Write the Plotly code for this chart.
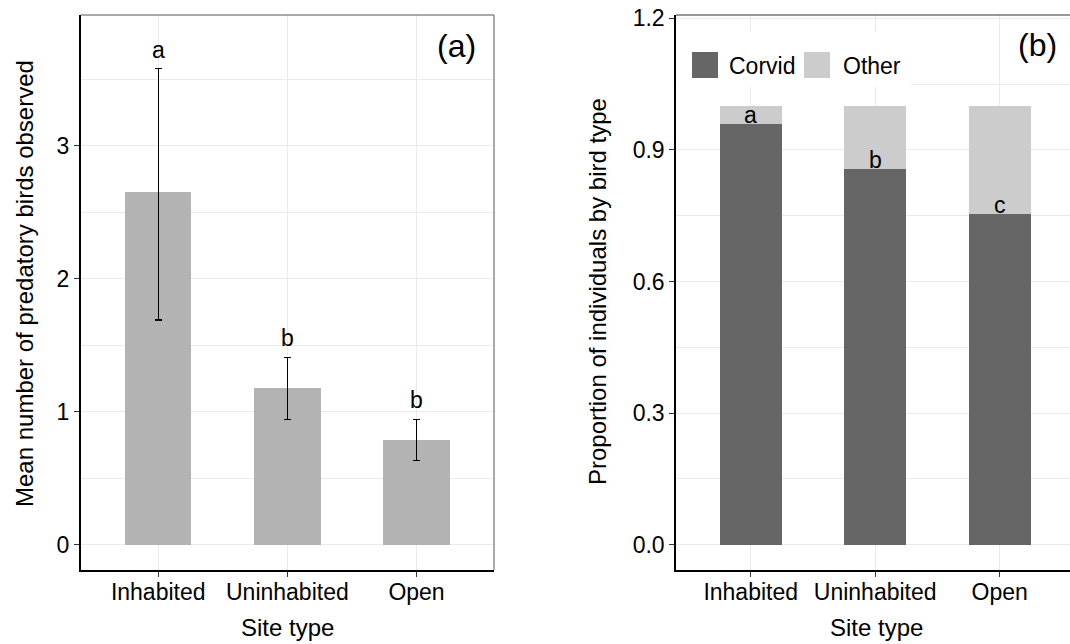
import plotly.graph_objects as go

# ---------------- data ----------------
sites = ["Inhabited", "Uninhabited", "Open"]

# panel (a): mean number of predatory birds observed, with interval bounds
mean_birds = [2.65, 1.18, 0.79]
upper_birds = [3.58, 1.41, 0.945]
lower_birds = [1.69, 0.945, 0.635]
letters_a = ["a", "b", "b"]

# panel (b): proportion of individuals by bird type
corvid = [0.96, 0.857, 0.755]
other = [0.04, 0.143, 0.245]
letters_b = ["a", "b", "c"]
series_names = ["Corvid", "Other"]

# ---------------- style ----------------
W, H = 1070, 644
FONT = "Liberation Sans, Arial, sans-serif"
GRID = "#ebebeb"
BAR_A = "#b3b3b3"
COL_B = {"Corvid": "#666666", "Other": "#cccccc"}

def px_x(p):
    return p / W

def px_y(p):
    return 1 - p / H

ydom = [px_y(570), px_y(15)]
xdom_a = [px_x(80.7), px_x(494)]
xdom_b = [px_x(676), 1.0]

fig = go.Figure()

# panel (a)
fig.add_trace(go.Bar(
    x=sites, y=mean_birds, width=0.515, marker=dict(color=BAR_A, line=dict(width=0)),
    error_y=dict(type="data", symmetric=False,
                 array=[u - m for u, m in zip(upper_birds, mean_birds)],
                 arrayminus=[m - l for m, l in zip(mean_birds, lower_birds)],
                 color="black", thickness=1.2, width=3.5),
    xaxis="x", yaxis="y", showlegend=False, hoverinfo="skip"))

# panel (b)
fig.add_trace(go.Bar(
    x=sites, y=corvid, width=0.5, name=series_names[0],
    marker=dict(color=COL_B["Corvid"], line=dict(width=0)),
    xaxis="x2", yaxis="y2", showlegend=False))
fig.add_trace(go.Bar(
    x=sites, y=other, width=0.5, name=series_names[1],
    marker=dict(color=COL_B["Other"], line=dict(width=0)),
    xaxis="x2", yaxis="y2", showlegend=False))

axis_common = dict(
    showline=True, linecolor="black", linewidth=1.5,
    ticks="outside", ticklen=5, tickwidth=1, tickcolor="#333333",
    tickfont=dict(family=FONT, size=23, color="black"),
    gridcolor=GRID, gridwidth=1.2, zeroline=False, automargin=False,
)

fig.update_layout(
    width=W, height=H,
    margin=dict(l=0, r=0, t=0, b=0),
    paper_bgcolor="white", plot_bgcolor="white",
    barmode="stack",
    font=dict(family=FONT, size=23, color="black"),
    xaxis=dict(domain=xdom_a, anchor="y", type="category", range=[-0.6, 2.6],
               ticklabelstandoff=-4, **axis_common),
    yaxis=dict(domain=ydom, anchor="x", range=[-0.19, 3.985],
               tickvals=[0, 1, 2, 3],
               minor=dict(tickvals=[0.5, 1.5, 2.5, 3.5], showgrid=True,
                          gridcolor=GRID, gridwidth=0.9, ticks=""),
               **axis_common),
    xaxis2=dict(domain=xdom_b, anchor="y2", type="category", range=[-0.6, 2.565],
                ticklabelstandoff=-4, **axis_common),
    yaxis2=dict(domain=ydom, anchor="x2", range=[-0.0575, 1.2075],
                tickvals=[0.0, 0.3, 0.6, 0.9, 1.2], tickformat=".1f",
                minor=dict(tickvals=[0.15, 0.45, 0.75, 1.05], showgrid=True,
                           gridcolor=GRID, gridwidth=0.9, ticks=""),
                **axis_common),
)

shapes = []
# grey panel border for (a): top and right
shapes.append(dict(type="line", xref="x domain", yref="y domain", x0=0, x1=1, y0=1, y1=1,
                   line=dict(color="#555555", width=1)))
shapes.append(dict(type="line", xref="x domain", yref="y domain", x0=1, x1=1, y0=0, y1=1,
                   line=dict(color="#555555", width=1)))
# top border for (b)
shapes.append(dict(type="line", xref="x2 domain", yref="y2 domain", x0=0, x1=1, y0=1, y1=1,
                   line=dict(color="#333333", width=1.2)))

# legend for (b), drawn manually with large keys
shapes.append(dict(type="rect", xref="paper", yref="paper",
                   x0=px_x(677), x1=px_x(911), y0=px_y(87), y1=px_y(32),
                   fillcolor="white", line=dict(width=0), layer="above"))
key_x = [692, 804]
text_x = [727, 841]
annotations = []
for name, kx, tx in zip(series_names, key_x, text_x):
    shapes.append(dict(type="rect", xref="paper", yref="paper",
                       x0=px_x(kx), x1=px_x(kx + 26), y0=px_y(78), y1=px_y(52),
                       fillcolor=COL_B[name], line=dict(width=0), layer="above"))
    annotations.append(dict(text=name, xref="paper", yref="paper",
                            x=px_x(tx), y=px_y(66), xanchor="left", yanchor="middle",
                            showarrow=False, font=dict(family=FONT, size=23, color="black")))

# significance letters
for s, u, lt in zip(sites, upper_birds, letters_a):
    annotations.append(dict(text=lt, x=s, y=u, xref="x", yref="y", xanchor="center",
                            yanchor="bottom", yshift=4, showarrow=False,
                            font=dict(family=FONT, size=23, color="black")))
for s, c, lt in zip(sites, corvid, letters_b):
    annotations.append(dict(text=lt, x=s, y=c, xref="x2", yref="y2", xanchor="center",
                            yanchor="bottom", yshift=-6, showarrow=False,
                            font=dict(family=FONT, size=23, color="black")))

# panel tags
annotations.append(dict(text="(a)", xref="paper", yref="paper", x=px_x(456), y=px_y(46),
                        xanchor="center", yanchor="middle", showarrow=False,
                        font=dict(family=FONT, size=32, color="black")))
annotations.append(dict(text="(b)", xref="paper", yref="paper", x=px_x(1037.5), y=px_y(45),
                        xanchor="center", yanchor="middle", showarrow=False,
                        font=dict(family=FONT, size=32, color="black")))

# axis titles
annotations.append(dict(text="Site type", xref="paper", yref="paper", x=px_x(287.5), y=px_y(643),
                        xanchor="center", yanchor="bottom", showarrow=False,
                        font=dict(family=FONT, size=24, color="black")))
annotations.append(dict(text="Site type", xref="paper", yref="paper", x=px_x(876), y=px_y(643),
                        xanchor="center", yanchor="bottom", showarrow=False,
                        font=dict(family=FONT, size=24, color="black")))
annotations.append(dict(text="Mean number of predatory birds observed", xref="paper", yref="paper",
                        x=px_x(24), y=px_y(284), xanchor="center", yanchor="middle",
                        textangle=-90, showarrow=False,
                        font=dict(family=FONT, size=24, color="black")))
annotations.append(dict(text="Proportion of individuals by bird type", xref="paper", yref="paper",
                        x=px_x(597), y=px_y(292), xanchor="center", yanchor="middle",
                        textangle=-90, showarrow=False,
                        font=dict(family=FONT, size=24, color="black")))

fig.update_layout(shapes=shapes, annotations=annotations)

fig.write_html("out.html")
